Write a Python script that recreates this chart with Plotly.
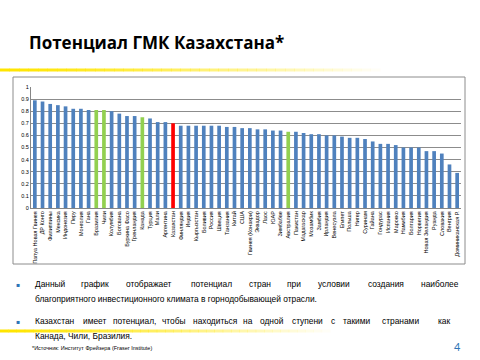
import plotly.graph_objects as go

countries = [
    "Папуа Новая Гвинея", "ДР Конго", "Филиппины", "Мексика", "Индонезия", "Перу",
    "Монголия", "Гана", "Бразилия", "Чили", "Колумбия", "Ботсвана", "Буркина Фасо",
    "Гренландия", "Канада", "Турция", "Мали", "Аргентина", "Казахстан", "Финляндия",
    "Индия", "Кыргызстан", "Боливия", "Россия", "Швеция", "Танзания", "Китай", "США",
    "Гвинея (Конакри)", "Эквадор", "Лаос", "ЮАР", "Зимбабве", "Австралия", "Пакистан",
    "Мадагаскар", "Мозамбик", "Замбия", "Ирландия", "Венесуэла", "Египет", "Польша",
    "Нигер", "Суринам", "Гайана", "Гондурас", "Испания", "Марокко", "Намибия",
    "Болгария", "Норвегия", "Новая Зеландия", "Руанда", "Словакия", "Венгрия",
    "Доминиканская Р.",
]
values = [
    0.89, 0.88, 0.86, 0.85, 0.84, 0.82, 0.82, 0.81, 0.81, 0.81, 0.80, 0.78, 0.76,
    0.76, 0.75, 0.74, 0.71, 0.71, 0.70, 0.68, 0.68, 0.68, 0.68, 0.68, 0.68, 0.67,
    0.67, 0.66, 0.66, 0.65, 0.65, 0.64, 0.64, 0.63, 0.63, 0.62, 0.61, 0.61, 0.60,
    0.60, 0.59, 0.58, 0.58, 0.57, 0.55, 0.53, 0.53, 0.52, 0.50, 0.50, 0.50, 0.47,
    0.47, 0.45, 0.36, 0.29,
]
green_countries = ["Бразилия", "Чили", "Канада", "Австралия"]
red_countries = ["Казахстан"]
y_ticks = [0, 0.1, 0.2, 0.3, 0.4, 0.5, 0.6, 0.7, 0.8, 0.9, 1]

title_text = "Потенциал ГМК Казахстана*"
bullet1 = ["Данный график отображает потенциал стран при условии создания наиболее",
           "благоприятного инвестиционного климата в горнодобывающей отрасли."]
bullet2 = ["Казахстан имеет потенциал, чтобы находиться на одной ступени с такими странами как",
           "Канада, Чили, Бразилия."]
footnote = "*Источник: Институт Фрейзера (Fraser Institute)"
page_no = "4"

W, H = 480, 360
BLUE = "#4F81BD"
GREEN = "#92D050"
RED = "#FF0000"
bar_colors = [RED if c in red_countries else GREEN if c in green_countries else BLUE
              for c in countries]

fig = go.Figure(go.Bar(x=countries, y=values, marker_color=bar_colors,
                       marker_line_width=0, width=0.48))

def px(x):
    return x / W

def py(y):
    return 1 - y / H

shapes = []
shapes.append(dict(type="rect", xref="paper", yref="paper", x0=px(13), x1=px(465),
                   y0=py(264), y1=py(77), line=dict(color="#8C8C8C", width=1)))

def grad(y, x_end, thick):
    n = 40
    for i in range(n):
        x0 = x_end * i / n
        x1 = x_end * (i + 1) / n + 0.5
        op = max(0.0, 1 - (i / n) ** 1.2)
        shapes.append(dict(type="rect", xref="paper", yref="paper",
                           x0=px(x0), x1=px(x1), y0=py(y + thick / 2), y1=py(y - thick / 2),
                           fillcolor="#FFE500", opacity=op, line_width=0, layer="below"))
grad(70, 380, 3)
grad(331, 330, 3)

ann = []
FONT = "Liberation Sans"
TS = 8.4
ann.append(dict(text="<b>" + title_text + "</b>", x=px(27), y=py(42), xref="paper", yref="paper",
                xanchor="left", yanchor="middle", showarrow=False,
                font=dict(family="Open Sans", size=17, color="black")))

# word centre positions (px) for the justified lines
line1_centres = [50, 94.5, 149, 211.5, 260, 293.5, 333.5, 386, 440]
line3_centres = [55, 94.5, 134.5, 173.5, 215, 248, 271.5, 307.5, 332.5, 356.5, 400.5, 444]

def words_at(line, centres, y):
    for w, c in zip(line.split(" "), centres):
        ann.append(dict(text=w, x=px(c), y=py(y), xref="paper", yref="paper",
                        xanchor="center", yanchor="middle", showarrow=False,
                        font=dict(family=FONT, size=TS, color="black")))

def plain(line, y, x0=33):
    ann.append(dict(text=line, x=px(x0), y=py(y), xref="paper", yref="paper",
                    xanchor="left", yanchor="middle", showarrow=False,
                    font=dict(family=FONT, size=TS, color="black")))

for yb in (284, 321):
    ann.append(dict(text="▪", x=px(18), y=py(yb), xref="paper", yref="paper",
                    xanchor="center", yanchor="middle", showarrow=False,
                    font=dict(family="DejaVu Sans", size=6, color="#2E75B6")))
words_at(bullet1[0], line1_centres, 284)
plain(bullet1[1], 299)
words_at(bullet2[0], line3_centres, 321)
plain(bullet2[1], 336)
ann.append(dict(text=footnote, x=px(30), y=py(348), xref="paper", yref="paper",
                xanchor="left", yanchor="middle", showarrow=False,
                font=dict(family="Liberation Sans", size=5.5, color="black")))
ann.append(dict(text=page_no, x=px(457), y=py(346), xref="paper", yref="paper",
                xanchor="center", yanchor="middle", showarrow=False,
                font=dict(family="Lato", size=11, color="#2E75B6")))

fig.update_layout(
    width=W, height=H, margin=dict(l=0, r=0, t=0, b=0),
    paper_bgcolor="white", plot_bgcolor="white", showlegend=False,
    shapes=shapes, annotations=ann,
    xaxis=dict(domain=[px(31), px(461)], range=[-0.5, len(countries) - 0.5],
               tickangle=-90, tickfont=dict(family="Liberation Sans", size=5.5, color="black"),
               showline=True, linecolor="#868686", linewidth=1, ticks="",
               showgrid=False, fixedrange=True, automargin=False),
    yaxis=dict(domain=[py(208), py(87)], range=[0, 1], tickvals=y_ticks,
               ticktext=[("%g" % v) for v in y_ticks],
               tickfont=dict(family="Liberation Sans", size=5.5, color="black"),
               showgrid=True, gridcolor="#8C8C8C", gridwidth=1,
               showline=True, linecolor="#868686", ticks="", ticklen=0,
               zeroline=False, fixedrange=True, automargin=False),
)

fig.write_html("out.html", config={"displayModeBar": False},
               post_script="document.body.style.margin='0';document.body.style.overflow='hidden';")
